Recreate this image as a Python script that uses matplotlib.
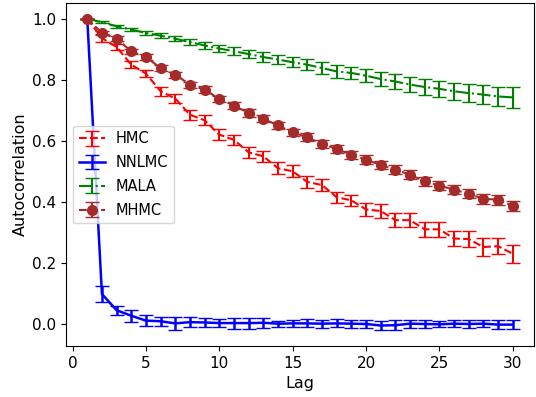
import numpy as np
import matplotlib
matplotlib.use("Agg")
import matplotlib.pyplot as plt

# Autocorrelation per lag, mean and std over chains
lags = list(range(1, 31))

hmc = [1.0, 0.936, 0.907, 0.849, 0.820, 0.762, 0.738, 0.685, 0.667, 0.620,
       0.603, 0.562, 0.549, 0.510, 0.500, 0.465, 0.455, 0.415, 0.405, 0.375,
       0.370, 0.340, 0.340, 0.310, 0.310, 0.280, 0.278, 0.252, 0.255, 0.230]
hmc_err = [0.0, 0.012, 0.010, 0.012, 0.012, 0.015, 0.015, 0.016, 0.016, 0.017,
           0.017, 0.018, 0.018, 0.019, 0.019, 0.020, 0.020, 0.018, 0.019, 0.022,
           0.022, 0.023, 0.023, 0.025, 0.024, 0.026, 0.027, 0.028, 0.027, 0.030]

nnlmc = [1.0, 0.098, 0.045, 0.027, 0.011, 0.009, 0.002, 0.006, 0.005, 0.003,
         0.003, 0.003, 0.004, 0.001, 0.002, 0.002, 0.001, 0.002, 0.001, 0.0,
         -0.005, -0.004, 0.001, 0.0, -0.001, 0.001, 0.0, 0.001, -0.002, -0.002]
nnlmc_err = [0.0, 0.027, 0.014, 0.019, 0.019, 0.015, 0.022, 0.017, 0.016, 0.012,
             0.018, 0.018, 0.017, 0.010, 0.012, 0.013, 0.013, 0.013, 0.013, 0.012,
             0.014, 0.017, 0.013, 0.012, 0.010, 0.012, 0.012, 0.012, 0.014, 0.014]

mala = [1.0, 0.988, 0.975, 0.964, 0.953, 0.944, 0.934, 0.923, 0.912, 0.902,
        0.893, 0.884, 0.874, 0.866, 0.857, 0.849, 0.838, 0.827, 0.822, 0.813,
        0.802, 0.794, 0.784, 0.776, 0.770, 0.762, 0.756, 0.751, 0.745, 0.742]
mala_err = [0.0, 0.004, 0.005, 0.006, 0.007, 0.008, 0.009, 0.010, 0.011, 0.012,
            0.013, 0.014, 0.015, 0.016, 0.017, 0.018, 0.019, 0.020, 0.021, 0.022,
            0.023, 0.024, 0.025, 0.026, 0.027, 0.028, 0.029, 0.030, 0.032, 0.034]

mhmc = [1.0, 0.953, 0.934, 0.893, 0.874, 0.838, 0.816, 0.784, 0.767, 0.737,
        0.715, 0.691, 0.672, 0.650, 0.628, 0.611, 0.590, 0.573, 0.554, 0.538,
        0.521, 0.505, 0.489, 0.467, 0.453, 0.440, 0.426, 0.410, 0.407, 0.387]
mhmc_err = [0.0, 0.008, 0.008, 0.009, 0.009, 0.010, 0.010, 0.010, 0.011, 0.011,
            0.011, 0.012, 0.012, 0.012, 0.012, 0.013, 0.013, 0.013, 0.013, 0.014,
            0.014, 0.014, 0.014, 0.015, 0.015, 0.015, 0.015, 0.016, 0.016, 0.016]

plt.rcParams["font.size"] = 11

fig, ax = plt.subplots(figsize=(5.36, 3.97), dpi=100)
fig.subplots_adjust(left=66 / 536, right=534 / 536, top=1 - 3 / 397, bottom=1 - 346 / 397)

ax.errorbar(lags, hmc, yerr=hmc_err, color="red", linestyle="--", capsize=5, label="HMC")
ax.errorbar(lags, nnlmc, yerr=nnlmc_err, color="blue", linestyle="-", lw=1.8, capsize=5, label="NNLMC")
ax.errorbar(lags, mala, yerr=mala_err, color="green", linestyle="-.", capsize=5, label="MALA")
ax.errorbar(lags, mhmc, yerr=mhmc_err, color="brown", linestyle="--", marker="o",
            markersize=7, capsize=5, label="MHMC")

ax.set_xlabel("Lag", fontsize=11.5)
ax.set_ylabel("Autocorrelation", fontsize=11.5, labelpad=3)
ax.legend(loc="center left", fontsize=10.5, handlelength=1.8, handletextpad=0.7,
          labelspacing=0.6)

fig.savefig("out.png", dpi=100)
